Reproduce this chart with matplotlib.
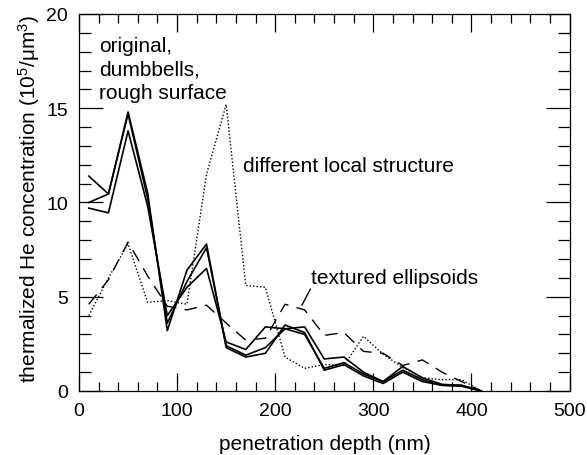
import numpy as np
import matplotlib
matplotlib.use('Agg')
import matplotlib.pyplot as plt

plt.rcParams['font.family'] = ['Liberation Sans', 'DejaVu Sans']
plt.rcParams['mathtext.fontset'] = 'custom'
plt.rcParams['mathtext.rm'] = 'Liberation Sans'
plt.rcParams['mathtext.default'] = 'regular'

# depth bins (nm)
depth = [10, 30, 50, 70, 90, 110, 130, 150, 170, 190, 210,
         230, 250, 270, 290, 310, 330, 350, 370, 390, 410]

# three nearly identical runs (solid)
original = [11.4, 10.45, 14.8, 10.5, 3.2, 6.4, 7.8, 2.3, 1.8, 2.0, 3.5,
            3.1, 1.1, 1.4, 0.8, 0.4, 1.0, 0.5, 0.3, 0.3, 0.0]
dumbbells = [10.0, 10.45, 14.7, 10.2, 3.6, 5.8, 7.6, 2.4, 1.9, 2.3, 3.3,
             3.0, 1.2, 1.5, 0.9, 0.5, 1.1, 0.6, 0.3, 0.25, 0.0]
rough = [9.7, 9.45, 13.8, 9.8, 4.0, 5.5, 6.5, 2.6, 2.2, 3.4, 3.3,
         3.4, 1.7, 1.8, 1.0, 0.5, 1.3, 0.7, 0.35, 0.3, 0.0]
# different local structure (dotted)
local_struct = [4.0, 6.0, 7.8, 4.7, 4.8, 4.6, 11.5, 15.2, 5.6, 5.5, 1.8,
                1.2, 1.4, 1.35, 2.9, 1.95, 1.25, 0.7, 0.6, 0.6, 0.0]
# textured ellipsoids (dashed)
ellipsoids = [4.6, 5.9, 7.9, 6.1, 4.5, 4.3, 4.55, 3.6, 2.7, 2.8, 4.6,
              4.3, 2.95, 3.1, 2.1, 2.0, 1.35, 1.65, 1.0, 0.5, 0.0]

fig = plt.figure(figsize=(5.87, 4.56), dpi=100)
ax = fig.add_axes([0.1346, 0.1404, 0.8356, 0.8268])

for s in (original, dumbbells, rough):
    ax.plot(depth, s, color='black', lw=1.2)
ax.plot(depth, local_struct, color='black', lw=1.0, ls=(0, (1, 1.5)))
ax.plot(depth, ellipsoids, color='black', lw=1.0, dashes=(9, 6))

ax.set_xlim(0, 500)
ax.set_ylim(0, 20)
ax.set_xticks(np.arange(0, 501, 100))
ax.set_xticks(np.arange(0, 501, 20), minor=True)
ax.set_yticks(np.arange(0, 21, 5))
ax.set_yticks(np.arange(0, 21, 1), minor=True)
ax.tick_params(which='both', direction='in', top=True, right=True,
               labelsize=14, width=0.9)
ax.tick_params(axis='x', which='major', length=13, pad=8)
ax.tick_params(axis='x', which='minor', length=6.5)
ax.tick_params(axis='y', which='major', length=17, pad=8)
ax.tick_params(axis='y', which='minor', length=8.6)
for sp in ax.spines.values():
    sp.set_linewidth(0.9)

ax.set_xlabel('penetration depth (nm)', fontsize=15)
ax.set_ylabel('thermalized He concentration (10$^{5}$/μm$^{3}$)', fontsize=15)
ax.xaxis.set_label_coords(0.502, -0.115)
ax.yaxis.set_label_coords(-0.0755, 0.512)

ax.text(20, 17.1, 'original,\ndumbbells,\nrough surface', fontsize=15,
        ha='left', va='center', linespacing=1.3)
ax.text(167.5, 11.95, 'different local structure', fontsize=15,
        ha='left', va='center')
ax.text(236.5, 6.03, 'textured ellipsoids', fontsize=15,
        ha='left', va='center')
ax.plot([235.8, 227.3], [5.4, 4.56], color='black', lw=1.0)

fig.savefig('out.png', dpi=100)
